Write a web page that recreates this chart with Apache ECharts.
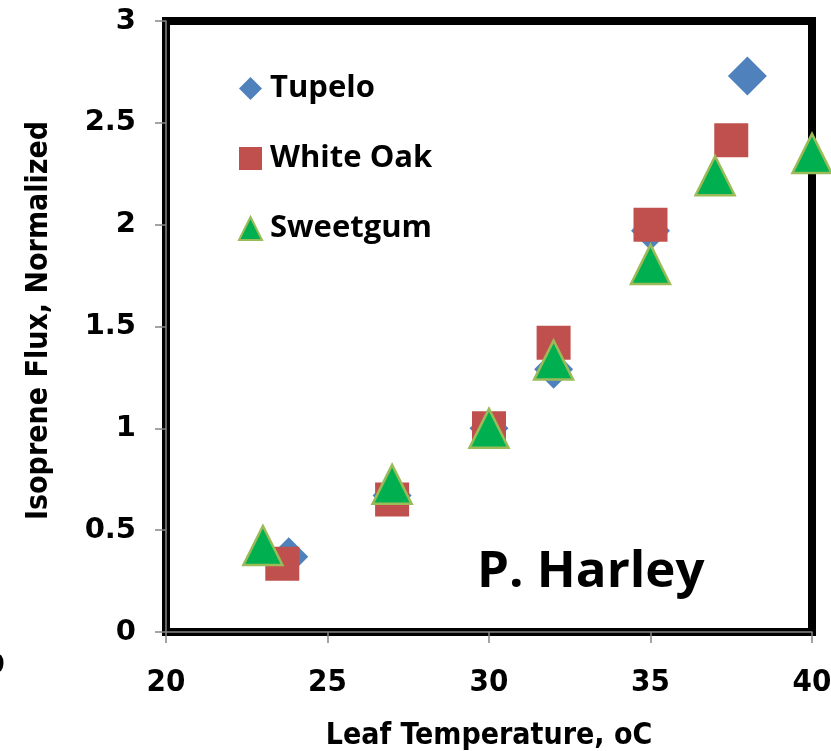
<!DOCTYPE html>
<html>
<head>
<meta charset="utf-8">
<script src="https://cdn.jsdelivr.net/npm/echarts@6/dist/echarts.min.js"></script>
<style>html,body{margin:0;padding:0;background:#fff;}#c{width:831px;height:751px;}</style>
</head>
<body>
<div id="c"></div>
<script>
var seriesNames = ['Tupelo', 'White Oak', 'Sweetgum'];
var tupeloX = [23.8, 27, 30, 32, 35, 38];
var tupeloY = [0.37, 0.67, 1.0, 1.29, 1.97, 2.73];
var oakX = [23.6, 27, 30, 32, 35, 37.5];
var oakY = [0.335, 0.65, 1.0, 1.42, 2.0, 2.415];
var gumX = [23, 27, 30, 32, 35, 37, 40];
var gumY = [0.425, 0.725, 1.0, 1.335, 1.805, 2.24, 2.35];
var xTicks = [20, 25, 30, 35, 40];
var yTicks = [0, 0.5, 1, 1.5, 2, 2.5, 3];

function pairs(xs, ys) { return xs.map(function (x, i) { return [x, ys[i]]; }); }

var chart = echarts.init(document.getElementById('c'));
var narrow = "'DejaVu Sans Condensed', 'DejaVu Sans'";
chart.setOption({
  animation: false,
  backgroundColor: '#fff',
  grid: { left: 166, right: 19, top: 21, bottom: 119, show: true, borderColor: '#000', borderWidth: 8,
          backgroundColor: 'transparent', outerBoundsMode: 'none', containLabel: false },
  legend: {
    orient: 'vertical', left: 233, top: 68, itemGap: 39, itemWidth: 23, itemHeight: 23,
    data: seriesNames,
    textStyle: { fontFamily: 'Open Sans', fontWeight: 'bold', fontSize: 31, color: '#000', padding: [0, 0, 0, 3] }
  },
  xAxis: {
    type: 'value', min: xTicks[0], max: xTicks[xTicks.length - 1], interval: 5,
    name: 'Leaf Temperature, oC', nameLocation: 'middle', nameGap: 89,
    nameTextStyle: { fontFamily: narrow, fontWeight: 'bold', fontSize: 30, color: '#000' },
    axisLine: { show: true, lineStyle: { color: '#868686', width: 1.5 } },
    axisTick: { show: true, length: 11, lineStyle: { color: '#868686', width: 1.5 } },
    axisLabel: { margin: 35, fontFamily: narrow, fontWeight: 'bold', fontSize: 31, color: '#000' },
    splitLine: { show: false }
  },
  yAxis: {
    type: 'value', min: yTicks[0], max: yTicks[yTicks.length - 1], interval: 0.5,
    name: 'Isoprene Flux, Normalized', nameLocation: 'middle', nameGap: 112, nameRotate: 90,
    nameTextStyle: { fontFamily: narrow, fontWeight: 'bold', fontSize: 30, color: '#000', padding: [0, 0, 0, 12] },
    axisLine: { show: true, lineStyle: { color: '#868686', width: 1.5 } },
    axisTick: { show: true, length: 11, lineStyle: { color: '#868686', width: 1.5 } },
    axisLabel: { margin: 30, fontFamily: 'DejaVu Sans', fontWeight: 'bold', fontSize: 29, color: '#000' },
    splitLine: { show: false }
  },
  graphic: [
    { type: 'text', left: 477, top: 547, z: 100, style: { text: 'P. Harley', fontFamily: 'Open Sans', fontWeight: 'bold', fontSize: 51, fill: '#000' } },
    { type: 'text', left: -14, top: 652, style: { text: '0', fontFamily: 'DejaVu Sans', fontWeight: 'bold', fontSize: 27, fill: '#000' } }
  ],
  series: [
    { name: seriesNames[0], type: 'scatter', clip: false, symbol: 'diamond', symbolSize: 39, z: 3,
      itemStyle: { color: '#4F81BD', opacity: 1 }, data: pairs(tupeloX, tupeloY) },
    { name: seriesNames[1], type: 'scatter', clip: false, symbol: 'rect', symbolSize: 34, z: 4,
      itemStyle: { color: '#C0504D', opacity: 1 }, data: pairs(oakX, oakY) },
    { name: seriesNames[2], type: 'scatter', clip: false, symbol: 'triangle', symbolSize: 39, z: 5,
      itemStyle: { color: '#00B050', borderColor: '#9BBB59', borderWidth: 2.5, opacity: 1 }, data: pairs(gumX, gumY) }
  ]
});
</script>
</body>
</html>
